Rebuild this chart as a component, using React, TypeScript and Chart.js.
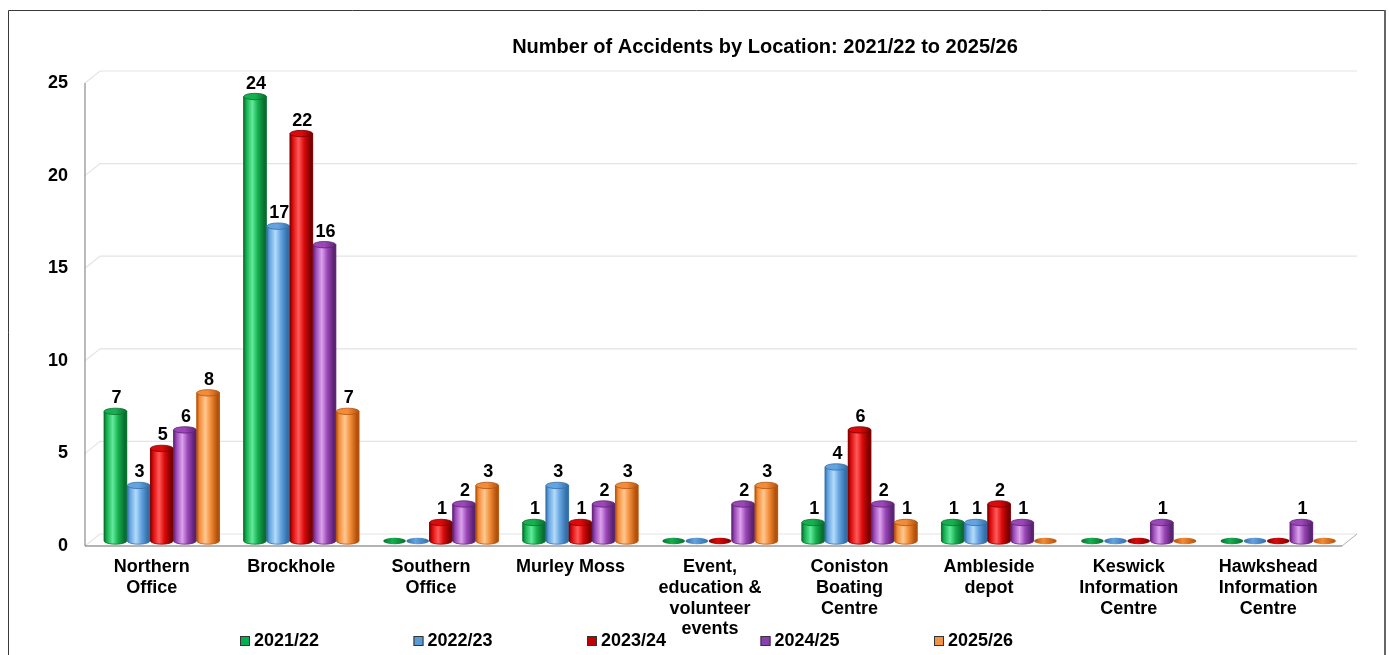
import React, { useEffect, useRef } from "react";
import { Chart, registerables } from "chart.js";

Chart.register(...registerables);

const TITLE = "Number of Accidents by Location: 2021/22 to 2025/26";

const categories: string[][] = [
  ["Northern", "Office"],
  ["Brockhole"],
  ["Southern", "Office"],
  ["Murley Moss"],
  ["Event,", "education &", "volunteer", "events"],
  ["Coniston", "Boating", "Centre"],
  ["Ambleside", "depot"],
  ["Keswick", "Information", "Centre"],
  ["Hawkshead", "Information", "Centre"],
];

const seriesLabels = ["2021/22", "2022/23", "2023/24", "2024/25", "2025/26"];

const values2021 = [7, 24, 0, 1, 0, 1, 1, 0, 0];
const values2022 = [3, 17, 0, 3, 0, 4, 1, 0, 0];
const values2023 = [5, 22, 1, 1, 0, 6, 2, 0, 0];
const values2024 = [6, 16, 2, 2, 2, 2, 1, 1, 1];
const values2025 = [8, 7, 3, 3, 3, 1, 0, 0, 0];

const yTicks = [0, 5, 10, 15, 20, 25];

// colour ramps: [dark, mid, light, legend]
const palettes = [
  ["#0a6e30", "#16b04f", "#62eb9c", "#00b050"],
  ["#336fa8", "#63a3e0", "#b3dbfa", "#5b9bd5"],
  ["#7d0000", "#dc0a0a", "#ff5a5a", "#c00000"],
  ["#5c2373", "#9b47b8", "#dba3ec", "#8a3fae"],
  ["#b4520c", "#f28c38", "#ffc890", "#f39240"],
];

const FONT = "'Liberation Sans', Arial, sans-serif";

const FRONT_DX = -7;
const FRONT_DY = 5;
const BACK_DX = 8;
const BACK_DY = -7;

const decoPlugin = {
  id: "deco",
  beforeDraw(chart: any) {
    const ctx = chart.ctx;
    ctx.save();
    ctx.fillStyle = "#ffffff";
    ctx.fillRect(0, 0, chart.width, chart.height);
    // frame
    ctx.strokeStyle = "#3a3a3a";
    ctx.lineWidth = 1;
    ctx.beginPath();
    ctx.moveTo(8.5, chart.height);
    ctx.lineTo(8.5, 10.5);
    ctx.lineTo(1384.5, 10.5);
    ctx.stroke();
    ctx.strokeStyle = "#666";
    ctx.lineWidth = 2;
    ctx.beginPath();
    ctx.moveTo(1385, 10);
    ctx.lineTo(1385, chart.height);
    ctx.stroke();
    // title
    ctx.fillStyle = "#000";
    ctx.font = `bold 20px ${FONT}`;
    ctx.textAlign = "center";
    ctx.textBaseline = "middle";
    ctx.fillText(TITLE, 765, 47);
    ctx.restore();
  },
  beforeDatasetsDraw(chart: any) {
    const ctx = chart.ctx;
    const { left, right } = chart.chartArea;
    const ys = chart.scales.y;
    ctx.save();
    // back wall gridlines + left side diagonals
    ctx.strokeStyle = "#e4e4e4";
    ctx.lineWidth = 1.2;
    for (const v of yTicks) {
      const y = ys.getPixelForValue(v);
      ctx.beginPath();
      ctx.moveTo(left + FRONT_DX, y + FRONT_DY);
      ctx.lineTo(left + BACK_DX, y + BACK_DY);
      ctx.lineTo(right + BACK_DX + 1, y + BACK_DY);
      ctx.stroke();
    }
    const y0 = ys.getPixelForValue(0);
    const yTop = ys.getPixelForValue(25);
    // floor right edge
    ctx.strokeStyle = "#b0b0b0";
    ctx.lineWidth = 1;
    ctx.beginPath();
    ctx.moveTo(right - 6, y0 + FRONT_DY);
    ctx.lineTo(right + BACK_DX + 1, y0 + BACK_DY);
    ctx.stroke();
    // front floor line
    ctx.strokeStyle = "#9a9a9a";
    ctx.lineWidth = 1.5;
    ctx.beginPath();
    ctx.moveTo(left + FRONT_DX, y0 + FRONT_DY);
    ctx.lineTo(right - 6, y0 + FRONT_DY);
    ctx.stroke();
    // front axis
    ctx.strokeStyle = "#8c8c8c";
    ctx.lineWidth = 1.2;
    ctx.beginPath();
    ctx.moveTo(left + FRONT_DX, yTop + FRONT_DY);
    ctx.lineTo(left + FRONT_DX, y0 + FRONT_DY);
    ctx.stroke();
    ctx.restore();
  },
  afterDatasetsDraw(chart: any) {
    const ctx = chart.ctx;
    ctx.save();
    const ry = 3.2;
    chart.data.datasets.forEach((ds: any, di: number) => {
      const meta = chart.getDatasetMeta(di);
      const [dark, mid, light] = palettes[di];
      meta.data.forEach((el: any, i: number) => {
        const { x, y, base, width } = el.getProps(["x", "y", "base", "width"], true);
        const w = width - 0.5;
        const l = x - w / 2;
        const r = x + w / 2;
        const rx = w / 2;
        const v = ds.data[i];
        if (!v) {
          ctx.beginPath();
          ctx.ellipse(x, base, rx, ry, 0, 0, Math.PI * 2);
          const g0 = ctx.createLinearGradient(l, 0, r, 0);
          g0.addColorStop(0, dark);
          g0.addColorStop(0.4, mid);
          g0.addColorStop(1, dark);
          ctx.fillStyle = g0;
          ctx.fill();
          return;
        }
        const g = ctx.createLinearGradient(l, 0, r, 0);
        g.addColorStop(0, dark);
        g.addColorStop(0.12, mid);
        g.addColorStop(0.38, light);
        g.addColorStop(0.62, mid);
        g.addColorStop(0.9, dark);
        g.addColorStop(1, dark);
        ctx.beginPath();
        ctx.moveTo(l, y);
        ctx.lineTo(l, base);
        ctx.ellipse(x, base, rx, ry, 0, Math.PI, 0, true);
        ctx.lineTo(r, y);
        ctx.closePath();
        ctx.fillStyle = g;
        ctx.fill();
        ctx.strokeStyle = dark;
        ctx.lineWidth = 0.8;
        ctx.stroke();
        // top cap
        ctx.beginPath();
        ctx.ellipse(x, y, rx, ry, 0, 0, Math.PI * 2);
        const gc = ctx.createLinearGradient(l, 0, r, 0);
        gc.addColorStop(0, mid);
        gc.addColorStop(0.5, mid);
        gc.addColorStop(1, dark);
        ctx.fillStyle = gc;
        ctx.fill();
        ctx.strokeStyle = dark;
        ctx.lineWidth = 0.8;
        ctx.stroke();
        // value label
        ctx.fillStyle = "#000";
        ctx.font = `bold 18px ${FONT}`;
        ctx.textAlign = "center";
        ctx.textBaseline = "alphabetic";
        ctx.fillText(String(v), x + 1, y - 8);
      });
    });
    ctx.restore();
  },
  afterDraw(chart: any) {
    const ctx = chart.ctx;
    ctx.save();
    ctx.font = `bold 18px ${FONT}`;
    ctx.textBaseline = "middle";
    ctx.textAlign = "left";
    seriesLabels.forEach((lab, i) => {
      const bx = 240 + i * 173.5;
      const by = 636;
      ctx.fillStyle = palettes[i][3];
      ctx.fillRect(bx, by, 10, 10);
      ctx.strokeStyle = "#333";
      ctx.lineWidth = 1;
      ctx.strokeRect(bx + 0.5, by + 0.5, 9, 9);
      ctx.fillStyle = "#000";
      ctx.fillText(lab, bx + 14, by + 5.5);
    });
    ctx.restore();
  },
};

export default function App() {
  const ref = useRef<HTMLCanvasElement | null>(null);
  useEffect(() => {
    if (!ref.current) return;
    const allValues = [values2021, values2022, values2023, values2024, values2025];
    const chart = new Chart(ref.current, {
      type: "bar",
      data: {
        labels: categories,
        datasets: seriesLabels.map((lab, i) => ({
          label: lab,
          data: allValues[i],
          backgroundColor: palettes[i][1],
          borderWidth: 0,
          categoryPercentage: 0.83,
          barPercentage: 1.0,
        })),
      },
      options: {
        animation: false,
        responsive: false,
        maintainAspectRatio: false,
        layout: { padding: { left: 0, right: 41, top: 78, bottom: 0 } },
        plugins: {
          legend: { display: false },
          title: { display: false },
          tooltip: { enabled: false },
        },
        scales: {
          x: {
            grid: { display: false, drawTicks: false },
            border: { display: false },
            ticks: {
              autoSkip: false,
              maxRotation: 0,
              minRotation: 0,
              labelOffset: -10,
              padding: 16,
              color: "#000",
              font: { family: FONT, size: 18, weight: "bold", lineHeight: 1.15 },
            },
            afterFit: (s: any) => {
              s.height = 114;
            },
          },
          y: {
            min: 0,
            max: 25,
            grid: { display: false, drawTicks: false },
            border: { display: false },
            ticks: {
              stepSize: 5,
              padding: 24,
              labelOffset: 5,
              color: "#000",
              font: { family: FONT, size: 18, weight: "bold" },
            },
            afterFit: (s: any) => {
              s.width = 92;
            },
          },
        },
      },
      plugins: [decoPlugin],
    });
    return () => chart.destroy();
  }, []);
  return (
    <div style={{ position: "fixed", left: 0, top: 0, width: 1389, height: 655 }}>
      <canvas ref={ref} width={1389} height={655} style={{ width: 1389, height: 655, display: "block" }} />
    </div>
  );
}
